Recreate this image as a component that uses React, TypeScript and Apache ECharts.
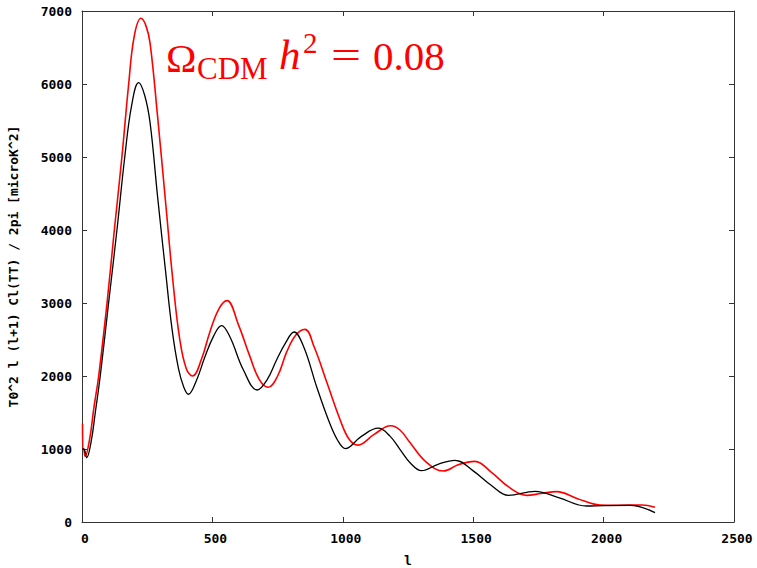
import React, { useEffect, useRef } from "react";
import * as echarts from "echarts";

const xTicks = [0, 500, 1000, 1500, 2000, 2500];
const yTicks = [0, 1000, 2000, 3000, 4000, 5000, 6000, 7000];

const lBlack = [2, 7, 18, 35, 51, 70, 102, 134, 164, 190, 217, 240, 261, 290, 320, 345, 370, 390, 408, 440, 470, 505, 535, 567, 619, 672, 710, 746, 780, 813, 850, 900, 945, 980, 1010, 1070, 1136, 1180, 1219, 1258, 1302, 1365, 1430, 1500, 1570, 1635, 1737, 1830, 1935, 2000, 2101, 2197];
const vBlack = [1000, 1000, 880, 1100, 1500, 2000, 3000, 4000, 5000, 5700, 6020, 5850, 5470, 4450, 3450, 2650, 2100, 1850, 1750, 1950, 2250, 2550, 2690, 2538, 2082, 1808, 1950, 2219, 2450, 2603, 2400, 1850, 1397, 1120, 1006, 1170, 1285, 1180, 996, 812, 703, 790, 845, 700, 500, 365, 420, 330, 219, 225, 228, 128];

const lRed = [2, 3, 6, 12, 30, 45, 64, 96, 124, 153, 179, 200, 226, 245, 261, 290, 320, 350, 375, 400, 424, 460, 490, 525, 556, 600, 644, 680, 714, 750, 785, 820, 855, 890, 940, 990, 1025, 1058, 1120, 1183, 1219, 1258, 1320, 1386, 1440, 1480, 1507, 1570, 1640, 1705, 1760, 1820, 1900, 1986, 2050, 2147, 2197];
const vRed = [1350, 1000, 1000, 900, 1150, 1550, 2000, 3000, 4000, 5000, 6000, 6650, 6900, 6800, 6560, 5550, 4400, 3250, 2500, 2100, 2000, 2250, 2600, 2920, 3033, 2700, 2265, 1950, 1845, 2000, 2330, 2560, 2639, 2400, 1900, 1397, 1130, 1053, 1200, 1318, 1260, 1086, 820, 698, 780, 820, 831, 680, 470, 365, 390, 416, 320, 233, 230, 233, 201];

const xName = "l";
const yName = "T0^2 l (l+1) Cl(TT) / 2pi [microK^2]";

export default function App() {
  const ref = useRef<HTMLDivElement>(null);
  useEffect(() => {
    if (!ref.current) return;
    const chart = echarts.init(ref.current, null, { renderer: "svg" });
    const mono = "DejaVu Sans Mono";
    const frame = "#333";
    const xMin = xTicks[0], xMax = xTicks[xTicks.length - 1], xInt = xTicks[1] - xTicks[0];
    const yMin = yTicks[0], yMax = yTicks[yTicks.length - 1], yInt = yTicks[1] - yTicks[0];
    const baseX = {
      type: "value", min: xMin, max: xMax, interval: xInt,
      splitLine: { show: false },
      axisLine: { show: true, onZero: false, lineStyle: { color: frame, width: 1 } },
      axisTick: { show: true, inside: true, length: 5, lineStyle: { color: frame } },
    };
    const baseY = {
      type: "value", min: yMin, max: yMax, interval: yInt,
      splitLine: { show: false },
      axisLine: { show: true, onZero: false, lineStyle: { color: frame, width: 1 } },
      axisTick: { show: true, inside: true, length: 5, lineStyle: { color: frame } },
    };
    const serif = "Liberation Serif";
    const fmt = (v: number) => String(v);
    chart.setOption({
      animation: false,
      backgroundColor: "#fff",
      grid: { left: 82, right: 23, top: 11, bottom: 46, show: false, containLabel: false, outerBoundsMode: "none" },
      xAxis: [
        {
          ...baseX, position: "bottom",
          name: xName, nameLocation: "middle", nameGap: 32,
          nameTextStyle: { fontFamily: mono, fontWeight: "bold", fontSize: 13, color: "#000" },
          axisLabel: { margin: 10, formatter: fmt, fontFamily: mono, fontWeight: "bold", fontSize: 13, color: "#000", padding: [0, 0, 0, 6] },
        },
        { ...baseX, position: "top", axisLabel: { show: false } },
      ],
      yAxis: [
        {
          ...baseY, position: "left",
          name: yName, nameLocation: "middle", nameGap: 62,
          nameTextStyle: { fontFamily: mono, fontWeight: "bold", fontSize: 13, color: "#000" },
          axisLabel: { margin: 10, formatter: fmt, fontFamily: mono, fontWeight: "bold", fontSize: 13, color: "#000" },
        },
        { ...baseY, position: "right", axisLabel: { show: false } },
      ],
      series: [
        {
          type: "line", xAxisIndex: 0, yAxisIndex: 0,
          data: lRed.map((l, i) => [l, vRed[i]]),
          showSymbol: false, smooth: 0.4,
          lineStyle: { color: "#ff0000", width: 1.6 },
        },
        {
          type: "line", xAxisIndex: 0, yAxisIndex: 0,
          data: lBlack.map((l, i) => [l, vBlack[i]]),
          showSymbol: false, smooth: 0.4,
          lineStyle: { color: "#000000", width: 1.3 },
        },
      ],
      graphic: [
        { type: "text", left: 166, top: 37, style: { text: "Ω", font: `41px "${serif}"`, fill: "#ff0000" } },
        { type: "text", left: 197, top: 53, style: { text: "CDM", font: `31px "${serif}"`, fill: "#ff0000" } },
        { type: "text", left: 279, top: 33, style: { text: "h", font: `italic 43px "${serif}"`, fill: "#ff0000" } },
        { type: "text", left: 303, top: 28, style: { text: "2", font: `29px "${serif}"`, fill: "#ff0000" } },
        { type: "text", left: 331, top: 35, scaleX: 1.3, style: { text: "=", font: `41px "${serif}"`, fill: "#ff0000" } },
        { type: "text", left: 373, top: 35, style: { text: "0.08", font: `41px "${serif}"`, fill: "#ff0000" } },
      ],
    });
    return () => chart.dispose();
  }, []);
  return <div ref={ref} style={{ position: "fixed", left: 0, top: 0, width: 757, height: 568 }} />;
}
